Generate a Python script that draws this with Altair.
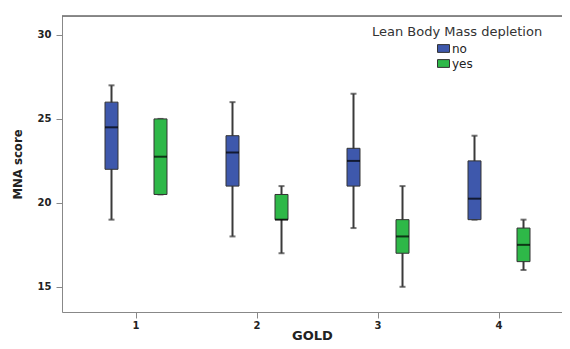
import altair as alt
import pandas as pd

gold = ["1", "1", "2", "2", "3", "3", "4", "4"]
lbm = ["no", "yes", "no", "yes", "no", "yes", "no", "yes"]
wmin = [19, 20.5, 18, 17, 18.5, 15, 19, 16]
q1 = [22, 20.5, 21, 19, 21, 17, 19, 16.5]
med = [24.5, 22.75, 23, 19, 22.5, 18, 20.25, 17.5]
q3 = [26, 25, 24, 20.5, 23.25, 19, 22.5, 18.5]
wmax = [27, 25, 26, 21, 26.5, 21, 24, 19]

df = pd.DataFrame({"gold": gold, "lbm": lbm, "wmin": wmin, "q1": q1,
                   "med": med, "q3": q3, "wmax": wmax})

W, H = 500, 296
FONT = "DejaVu Sans"

xenc = alt.X("gold:N",
             scale=alt.Scale(paddingInner=0, paddingOuter=0.0661, align=0.844),
             axis=alt.Axis(title="GOLD", labelAngle=0, labelFont=FONT,
                           labelFontWeight="bold", labelFontSize=10,
                           labelColor="#222", labelPadding=2, tickSize=6,
                           titleFont=FONT, titleFontSize=13, titleFontWeight="bold",
                           titleColor="#222", titlePadding=-1))
xoff = alt.XOffset("lbm:N", scale=alt.Scale(domain=["no", "yes"],
                                            paddingInner=0.735, paddingOuter=0.602))
ysc = alt.Scale(domain=[13.5, 31.13], nice=False, zero=False)
yaxis = alt.Axis(title="MNA score", values=[15, 20, 25, 30], grid=False,
                 labelFont=FONT, labelFontWeight="bold", labelFontSize=10,
                 labelColor="#222", labelPadding=5, tickSize=6,
                 titleFont="Liberation Sans Narrow, DejaVu Sans Condensed, Liberation Sans",
                 titleFontSize=13, titleFontWeight="bold", titleColor="#222",
                 titlePadding=13)

legend = alt.Legend(
    title="Lean Body Mass depletion", orient="none", legendX=310, legendY=10,
    padding=0, symbolOffset=65,
    titleFont=FONT, titleFontSize=13, titleFontWeight="normal", titleColor="#333",
    titlePadding=3, labelFont=FONT, labelFontSize=12, labelColor="#222",
    labelOffset=2, rowPadding=2,
    symbolType="M-1,-0.65H1V0.65H-1Z", symbolSize=144,
    symbolStrokeColor="#333", symbolStrokeWidth=1)

base = alt.Chart(df)

whisk = base.mark_rule(color="#3a3a3a", strokeWidth=2).encode(
    x=xenc, xOffset=xoff,
    y=alt.Y("wmin:Q", scale=ysc, axis=yaxis), y2="wmax:Q")
capl = base.mark_tick(color="#3a3a3a", thickness=2, size=6).encode(
    x=xenc, xOffset=xoff, y=alt.Y("wmin:Q", scale=ysc))
caph = base.mark_tick(color="#3a3a3a", thickness=2, size=6).encode(
    x=xenc, xOffset=xoff, y=alt.Y("wmax:Q", scale=ysc))
box = base.mark_bar(stroke="#333", strokeWidth=1).encode(
    x=xenc, xOffset=xoff,
    y=alt.Y("q1:Q", scale=ysc), y2="q3:Q",
    fill=alt.Fill("lbm:N", scale=alt.Scale(domain=["no", "yes"],
                                           range=["#3E58AC", "#2EB848"]),
                  legend=legend))
median = base.mark_tick(color="#000", thickness=2, size=13).encode(
    x=xenc, xOffset=xoff, y=alt.Y("med:Q", scale=ysc))
topline = alt.Chart(alt.Data(values=[{}])).mark_rule(
    color="#666", strokeWidth=1.5).encode(
    x=alt.value(0), x2=alt.value(W), y=alt.value(0))

chart = alt.layer(whisk, capl, caph, box, median, topline).properties(
    width=W, height=H, autosize="none",
    padding={"left": 54, "top": 8, "right": 0, "bottom": 29},
).configure_view(
    fill="#F0F0F0", stroke="transparent"
).configure_axis(
    domainColor="#666", domainWidth=1.5, tickColor="#555", tickWidth=1.5
).configure(background="white")

chart.save("out.html", embed_options={"renderer": "svg", "actions": False})
